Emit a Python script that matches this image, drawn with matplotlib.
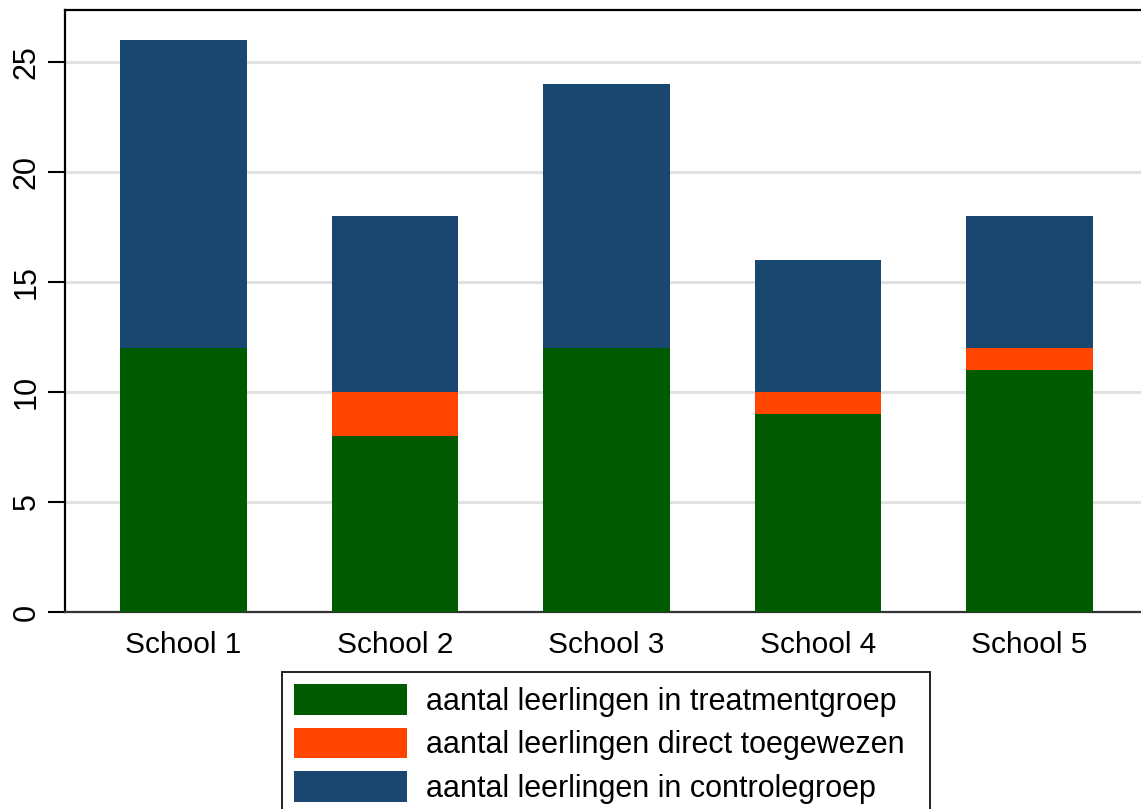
import matplotlib
matplotlib.use("Agg")
import matplotlib.pyplot as plt
from matplotlib.patches import Rectangle
import numpy as np

schools = ["School 1", "School 2", "School 3", "School 4", "School 5"]
treatment = [12, 8, 12, 9, 11]
direct = [0, 2, 0, 1, 1]
control = [14, 8, 12, 6, 6]
labels = ["aantal leerlingen in treatmentgroep",
          "aantal leerlingen direct toegewezen",
          "aantal leerlingen in controlegroep"]
colors = ["#005a00", "#ff4500", "#1a476f"]

plt.rcParams['font.family'] = ['Liberation Sans', 'DejaVu Sans']

W, H = 1141, 809
fig = plt.figure(figsize=(W / 100, H / 100), dpi=100)
ax = fig.add_axes([65 / W, 1 - 612 / H, (W - 65) / W, (612 - 10) / H])

x = np.arange(len(schools))
t = np.array(treatment)
d = np.array(direct)
c = np.array(control)
width = 0.6
b1 = ax.bar(x, t, width, color=colors[0], label=labels[0], zorder=3)
b2 = ax.bar(x, d, width, bottom=t, color=colors[1], label=labels[1], zorder=3)
b3 = ax.bar(x, c, width, bottom=t + d, color=colors[2], label=labels[2], zorder=3)

ax.set_xlim(-0.56, 4.527)
ax.set_ylim(0, 27.36)
ax.set_yticks([0, 5, 10, 15, 20, 25])
ax.set_yticklabels(["0", "5", "10", "15", "20", "25"], rotation=90, va="center")
ax.set_xticks(x)
ax.set_xticklabels(schools)
ax.tick_params(axis="y", length=12, width=1.5, labelsize=22, pad=5, color="black")
ax.tick_params(axis="x", length=0, labelsize=21.5, pad=14)
ax.yaxis.grid(True, color="#e1e1e1", linewidth=2.2, zorder=0)
ax.set_axisbelow(True)
for s in ["left", "top"]:
    ax.spines[s].set_color("black")
    ax.spines[s].set_linewidth(1.6)
ax.spines["bottom"].set_color("#333333")
ax.spines["bottom"].set_linewidth(1.6)
ax.spines["right"].set_visible(False)

leg = fig.legend(handles=[b1, b2, b3], labels=labels, loc="upper left",
                 bbox_to_anchor=(282 / W, 1 - 672 / H), borderaxespad=0,
                 fontsize=22, frameon=False,
                 handlelength=3.7, handleheight=1.15, handletextpad=0.62,
                 borderpad=0.4, labelspacing=0.36)

# legend frame (wider right padding than matplotlib's symmetric pad)
fig.patches.append(Rectangle((282 / W, -20 / H), (930 - 282) / W, (809 + 20 - 672) / H,
                             transform=fig.transFigure, fill=False,
                             edgecolor="#222222", linewidth=1.4, zorder=5))

fig.savefig("out.png", dpi=100)
